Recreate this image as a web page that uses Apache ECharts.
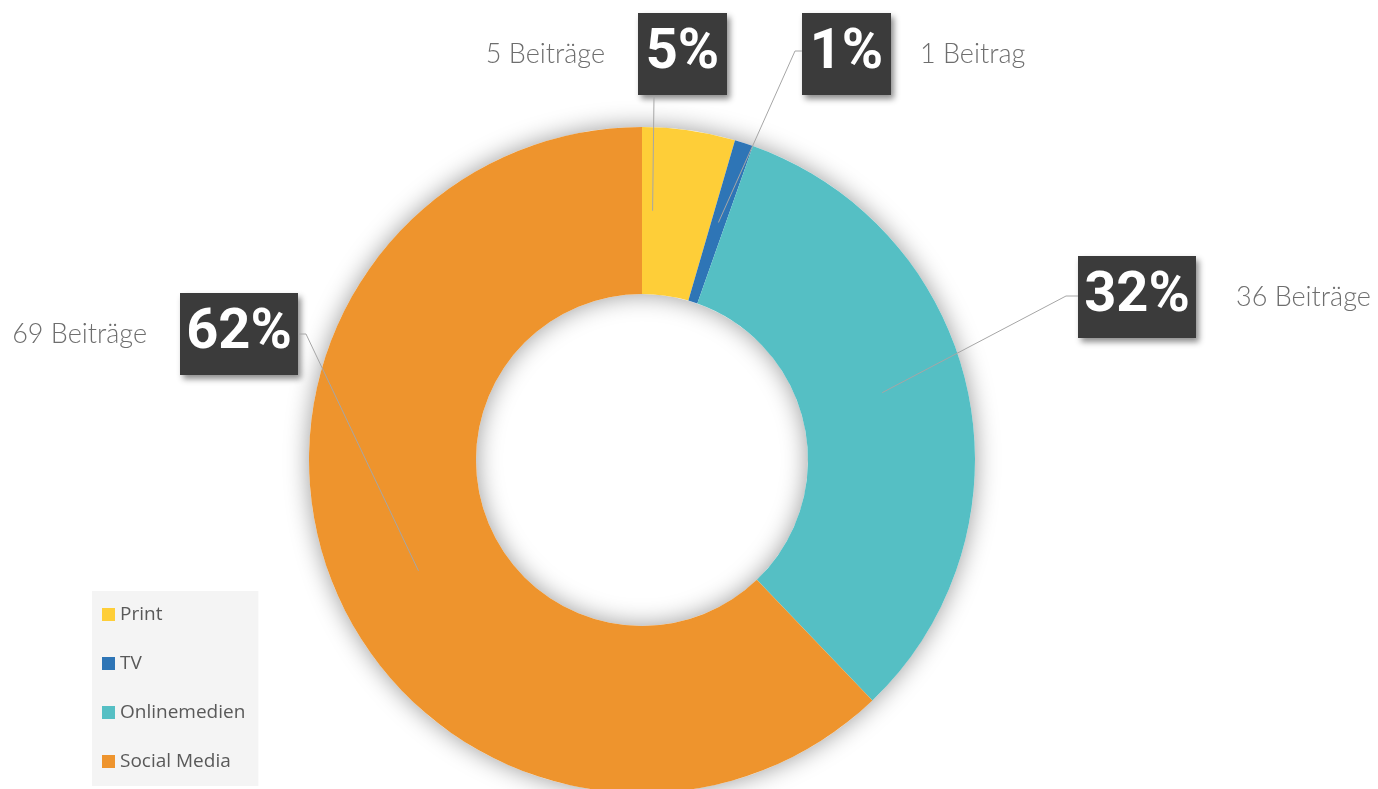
<!DOCTYPE html>
<html>
<head>
<meta charset="utf-8">
<script src="https://cdn.jsdelivr.net/npm/echarts@6/dist/echarts.min.js"></script>
<style>
  html, body { margin: 0; padding: 0; background: #fff; }
  #main { width: 1378px; height: 789px; }
</style>
</head>
<body>
<div id="main"></div>
<script>
// Daten
var categories = ['Print', 'TV', 'Onlinemedien', 'Social Media'];
var posts = [5, 1, 36, 69];
var percentLabels = ['5%', '1%', '32%', '62%'];
var countLabels = ['5 Beiträge', '1 Beitrag', '36 Beiträge', '69 Beiträge'];
var colors = ['#FECE38', '#2E75B6', '#55BFC4', '#EE942D'];

// Ring-Geometrie
var cx = 642, cy = 460, rIn = 166, rOut = 333;

// Lage der Beschriftungen (Kante der Box an der Linie, Mitte y), Knickpunkt der Linie
var spots = [
  { side: 'left',  x: 727,  y: 54,  gap: 33, elbow: [654, 96],   end: [654, 96],   at: 0.15 },
  { side: 'right', x: 802,  y: 54,  gap: 29, elbow: [795, 51],   end: [802, 51],   at: 0.5 },
  { side: 'right', x: 1078, y: 297, gap: 40, elbow: [1066, 296], end: [1078, 296], at: 0.47 },
  { side: 'left',  x: 298,  y: 334, gap: 33, elbow: [306, 334],  end: [298, 334],  at: 0.48 }
];

var total = posts.reduce(function (a, b) { return a + b; }, 0);

function anchor(i) {
  var before = 0;
  for (var j = 0; j < i; j++) before += posts[j];
  var ang = (before + posts[i] * spots[i].at) / total * Math.PI * 2;
  var r = (rIn + rOut) / 2;
  return [cx + r * Math.sin(ang), cy - r * Math.cos(ang)];
}

var boxStyle = {
  fontFamily: 'Roboto',
  fontWeight: 'bold',
  fontSize: 56,
  lineHeight: 56,
  color: '#ffffff',
  align: 'center',
  verticalAlign: 'middle',
  backgroundColor: '#3b3b3b',
  padding: [13, 8, 13, 8],
  shadowColor: 'rgba(0,0,0,0.45)',
  shadowBlur: 6,
  shadowOffsetX: 3,
  shadowOffsetY: 4
};

var rich = {
  pn: Object.assign({}, boxStyle, { width: 73 }),
  pw: Object.assign({}, boxStyle, { width: 102 }),
  n: { fontFamily: 'Lato', fontWeight: 300, fontSize: 27, color: '#6e6e6e', verticalAlign: 'middle' }
};
spots.forEach(function (s, i) { rich['g' + i] = { width: s.gap }; });

// Führungslinien
var leaders = spots.map(function (s, i) {
  return {
    type: 'polyline',
    z: 10,
    silent: true,
    shape: { points: [anchor(i), s.elbow, s.end] },
    style: { stroke: '#a6a6a6', lineWidth: 1, fill: null }
  };
});

var chart = echarts.init(document.getElementById('main'));

var option = {
  color: colors,
  animation: false,
  legend: {
    data: categories,
    orient: 'vertical',
    left: 92,
    top: 591,
    backgroundColor: '#f4f4f4',
    padding: [14, 13, 15, 10],
    itemWidth: 13,
    itemHeight: 13,
    itemGap: 30,
    icon: 'rect',
    selectedMode: false,
    textStyle: { fontFamily: 'Open Sans', fontSize: 19, color: '#595959' }
  },
  graphic: leaders,
  series: [
    {
      // Schatten unter dem Ring
      type: 'pie',
      z: 1,
      silent: true,
      center: [cx, cy],
      radius: [rIn, rOut],
      label: { show: false },
      labelLine: { show: false },
      itemStyle: { color: '#ffffff', shadowBlur: 24, shadowColor: 'rgba(0,0,0,0.4)' },
      data: [{ value: total, name: '' }]
    },
    {
      type: 'pie',
      z: 2,
      center: [cx, cy],
      radius: [rIn, rOut],
      startAngle: 90,
      clockwise: true,
      avoidLabelOverlap: false,
      emphasis: { scale: false },
      data: categories.map(function (c, i) { return { name: c, value: posts[i] }; }),
      label: {
        show: true,
        position: 'outside',
        formatter: function (p) {
          var i = p.dataIndex;
          var box = '{' + (percentLabels[i].length > 2 ? 'pw' : 'pn') + '|' + percentLabels[i] + '}';
          var txt = '{n|' + countLabels[i] + '}';
          var gap = '{g' + i + '|}';
          return spots[i].side === 'left' ? txt + gap + box : box + gap + txt;
        },
        rich: rich
      },
      labelLine: { show: false },
      labelLayout: function (p) {
        var s = spots[p.dataIndex];
        return {
          x: s.x,
          y: s.y,
          align: s.side === 'left' ? 'right' : 'left',
          verticalAlign: 'middle'
        };
      }
    }
  ]
};

chart.setOption(option);
</script>
</body>
</html>
